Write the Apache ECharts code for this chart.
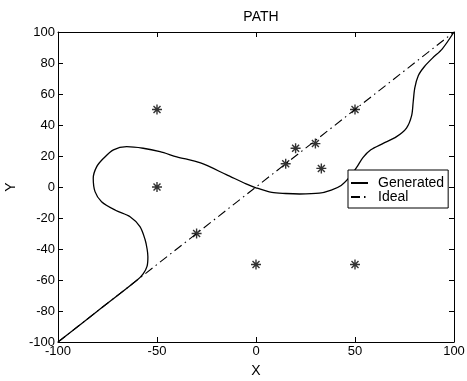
<!DOCTYPE html>
<html>
<head>
<meta charset="utf-8">
<script src="https://cdn.jsdelivr.net/npm/echarts@6/dist/echarts.min.js"></script>
<style>
html, body { margin: 0; padding: 0; background: #fff; }
#main { width: 467px; height: 381px; }
</style>
</head>
<body>
<div id="main"></div>
<script>
// 生成的路径 (Generated)
var genX = [-100, -80, -60, -57, -55, -54.6, -55, -56, -58.6, -63.6, -71, -78, -81.3, -82.2, -80.5, -77, -72, -65.3, -57, -48.5, -40, -28, -15, -5, 0, 8, 15, 22, 32, 38, 43, 47, 51, 54, 58, 64, 71, 76, 78.6, 79.4, 80.2, 82, 85, 89, 94, 100];
var genY = [-100, -80, -60, -56, -51, -45, -40, -34, -25.6, -19.2, -15, -9.5, -3, 5.6, 13, 18.5, 24, 26, 25, 22.8, 19.5, 15.5, 8, 2, -0.5, -3.5, -4.2, -4.5, -4, -2, 1, 6, 13, 19, 24, 28, 32.5, 38, 46, 55, 64, 72, 77.6, 83, 89, 100];
// 理想路径 (Ideal)
var idealX = [-100, 100];
var idealY = [-100, 100];
// 障碍点
var ptX = [-50, 50, -50, 15, 20, 30, 33, -30, 0, 50];
var ptY = [50, 50, 0, 15, 25, 28, 12, -30, -50, -50];

var starPath = 'path://M-0.7,-5L0.7,-5L0.7,5L-0.7,5Z' +
    'M-5,-0.7L5,-0.7L5,0.7L-5,0.7Z' +
    'M-3,-4L4,3L3,4L-4,-3Z' +
    'M3,-4L4,-3L-3,4L-4,3Z';

function zip(xs, ys) {
    var out = [];
    for (var i = 0; i < xs.length; i++) {
        out.push([xs[i], ys[i]]);
    }
    return out;
}

var font = 'Liberation Sans, Arial, sans-serif';

function axis(extra) {
    return Object.assign({
        type: 'value',
        min: -100,
        max: 100,
        axisLine: {onZero: false, lineStyle: {color: '#000', width: 1}},
        axisTick: {inside: true, length: 5, lineStyle: {color: '#000'}},
        splitLine: {show: false}
    }, extra);
}

var myChart = echarts.init(document.getElementById('main'));
var option = {
    animation: false,
    backgroundColor: '#fff',
    title: {
        text: 'PATH',
        left: 256,
        top: 5,
        textAlign: 'center',
        textStyle: {fontFamily: font, fontSize: 14, fontWeight: 'normal', color: '#000'}
    },
    grid: {left: 58, right: 13, top: 32, bottom: 39, containLabel: false, outerBoundsMode: 'none'},
    legend: {
        orient: 'vertical',
        left: 348,
        top: 170,
        padding: [6, 4, 4, 2],
        itemGap: 0,
        itemWidth: 17,
        itemHeight: 11,
        borderColor: '#000',
        borderWidth: 1,
        borderRadius: 0,
        backgroundColor: '#fff',
        itemStyle: {opacity: 0},
        data: ['Generated', 'Ideal'],
        textStyle: {fontFamily: font, fontSize: 14, color: '#000', lineHeight: 11, padding: [0, 0, 0, 5]}
    },
    xAxis: [
        axis({
            interval: 50, position: 'bottom',
            name: 'X', nameLocation: 'middle', nameGap: 22,
            nameTextStyle: {fontFamily: font, fontSize: 14, color: '#000'},
            axisLabel: {fontFamily: font, fontSize: 13, color: '#000', margin: 3}
        }),
        axis({interval: 50, position: 'top', axisLabel: {show: false}})
    ],
    yAxis: [
        axis({
            interval: 20, position: 'left',
            name: 'Y', nameLocation: 'middle', nameGap: 40,
            nameTextStyle: {fontFamily: font, fontSize: 14, color: '#000'},
            axisLabel: {fontFamily: font, fontSize: 13, color: '#000', margin: 3}
        }),
        axis({interval: 20, position: 'right', axisLabel: {show: false}})
    ],
    series: [
        {
            name: 'Generated',
            type: 'line',
            data: zip(genX, genY),
            smooth: 0.3,
            symbol: 'none',
            lineStyle: {color: '#000', width: 1.3},
            itemStyle: {color: '#000'}
        },
        {
            name: 'Ideal',
            type: 'line',
            data: zip(idealX, idealY),
            symbol: 'none',
            lineStyle: {color: '#000', width: 1.1, type: [9, 4, 1.5, 4]},
            itemStyle: {color: '#000'}
        },
        {
            name: 'points',
            type: 'scatter',
            data: zip(ptX, ptY),
            symbol: starPath,
            symbolSize: 10,
            itemStyle: {color: '#000'}
        }
    ]
};
myChart.setOption(option);
</script>
</body>
</html>
